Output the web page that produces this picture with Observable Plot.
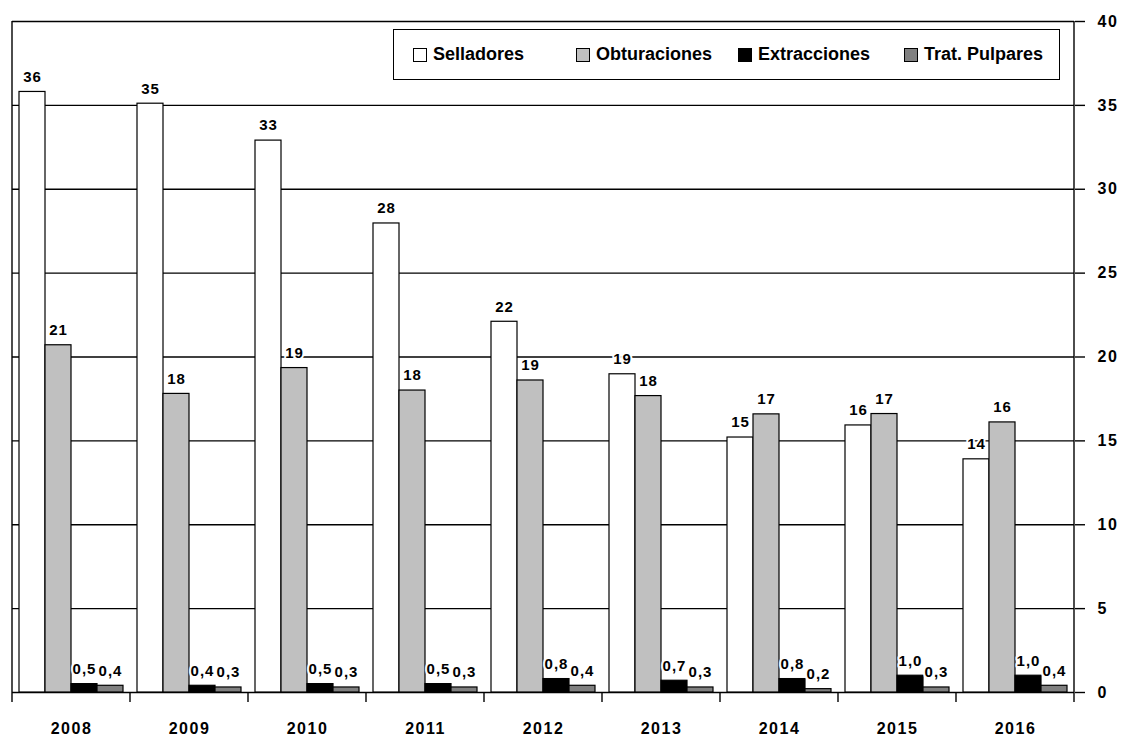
<!DOCTYPE html>
<html>
<head>
<meta charset="utf-8">
<script src="https://cdn.jsdelivr.net/npm/d3@7"></script>
<script src="https://cdn.jsdelivr.net/npm/@observablehq/plot@0.6"></script>
<style>
  html, body { margin: 0; padding: 0; background: #fff; }
  #wrap { position: relative; width: 1122px; height: 738px; overflow: hidden; }
  #wrap svg text { letter-spacing: 1px; }
  #wrap svg g[aria-label="y-axis tick label"] text,
  #wrap svg g[aria-label="fx-axis tick label"] text { letter-spacing: 1.5px; }
  #legend { position: absolute; left: 393px; top: 29px; width: 667px; height: 51px;
    border: 1.5px solid #000; background: #fff; box-sizing: border-box;
    font-family: "Liberation Sans", Arial, sans-serif;
    font-weight: bold; font-size: 18px; color: #000; }
  .item { position: absolute; top: 0; height: 100%; display: flex; align-items: center; white-space: nowrap; }
  .sw { width: 14px; height: 14px; border: 1.2px solid #000; box-sizing: border-box; margin-right: 6px; }
</style>
</head>
<body>
<div id="wrap"></div>
<script>
const years = ["2008", "2009", "2010", "2011", "2012", "2013", "2014", "2015", "2016"];
const series = ["Selladores", "Obturaciones", "Extracciones", "Trat. Pulpares"];
const selladores   = [35.8, 35.1, 32.9, 27.96, 22.1, 18.97, 15.2, 15.92, 13.9];
const obturaciones = [20.7, 17.8, 19.34, 18.0, 18.6, 17.67, 16.58, 16.6, 16.1];
const extracciones = [0.5, 0.4, 0.5, 0.5, 0.8, 0.7, 0.8, 1.0, 1.0];
const tratPulpares = [0.4, 0.3, 0.3, 0.3, 0.4, 0.3, 0.2, 0.3, 0.4];
const yTicks = [0, 5, 10, 15, 20, 25, 30, 35, 40];
const colors = ["#ffffff", "#c0c0c0", "#000000", "#808080"];

const seriesValues = [selladores, obturaciones, extracciones, tratPulpares];
const data = years.flatMap((yr, i) =>
  series.map((s, j) => ({ year: yr, series: s, idx: j, value: seriesValues[j][i] })));
const fmt = d => d.idx < 2 ? String(Math.round(d.value)) : d.value.toFixed(1).replace(".", ",");

const chart = Plot.plot({
  width: 1122, height: 738,
  marginTop: 21, marginBottom: 46, marginLeft: 11, marginRight: 47,
  style: { fontFamily: "'Liberation Sans', Arial, sans-serif", fontWeight: "bold", background: "white", color: "#000" },
  fx: { domain: years, padding: 0, label: null },
  x: { domain: series, paddingInner: 0, paddingOuter: 0.25, axis: null },
  y: { domain: [0, 40], axis: null },
  color: { domain: series, range: colors },
  marks: [
    Plot.ruleY(yTicks, { stroke: "#000", strokeWidth: 1.4 }),
    Plot.barY(data, { fx: "year", x: "series", y: "value", fill: "series", stroke: "#000", strokeWidth: 1.2 }),
    Plot.text(data, { fx: "year", x: "series", y: "value", text: fmt, dy: -15, fontSize: 15,
      fill: "#000", stroke: "white", strokeWidth: 4 }),
    Plot.axisFx({ anchor: "bottom", tickSize: 0, tickPadding: 30, fontSize: 16, label: null }),
    Plot.axisY(yTicks, { anchor: "right", tickSize: 10, tickPadding: 13, fontSize: 16, label: null, stroke: "#000", strokeWidth: 1.4 })
  ]
});

// Frame lines and category boundary ticks, positioned from Plot's own scales
const fxs = chart.scale("fx"), ys = chart.scale("y");
const bw = fxs.bandwidth;
const y0 = ys.apply(0), yTop = ys.apply(40);
const bounds = years.map(y => fxs.apply(y)).concat([fxs.apply(years[years.length - 1]) + bw]);
const g = d3.select(chart).append("g").attr("stroke", "#000").attr("stroke-width", 1.4);
bounds.forEach((bx, i) => {
  const top = (i === 0 || i === bounds.length - 1) ? yTop : y0;
  g.append("line").attr("x1", bx).attr("x2", bx).attr("y1", top).attr("y2", y0 + 10);
});

const wrap = document.getElementById("wrap");
wrap.appendChild(chart);

// Legend overlay (inside the plot area, as in the reference)
const legend = document.createElement("div");
legend.id = "legend";
const itemLeft = [19, 182, 344, 510];
series.forEach((s, j) => {
  const it = document.createElement("div");
  it.className = "item";
  it.style.left = itemLeft[j] + "px";
  const sw = document.createElement("span");
  sw.className = "sw";
  sw.style.background = colors[j];
  const tx = document.createElement("span");
  tx.textContent = s;
  it.appendChild(sw); it.appendChild(tx);
  legend.appendChild(it);
});
wrap.appendChild(legend);
</script>
</body>
</html>
